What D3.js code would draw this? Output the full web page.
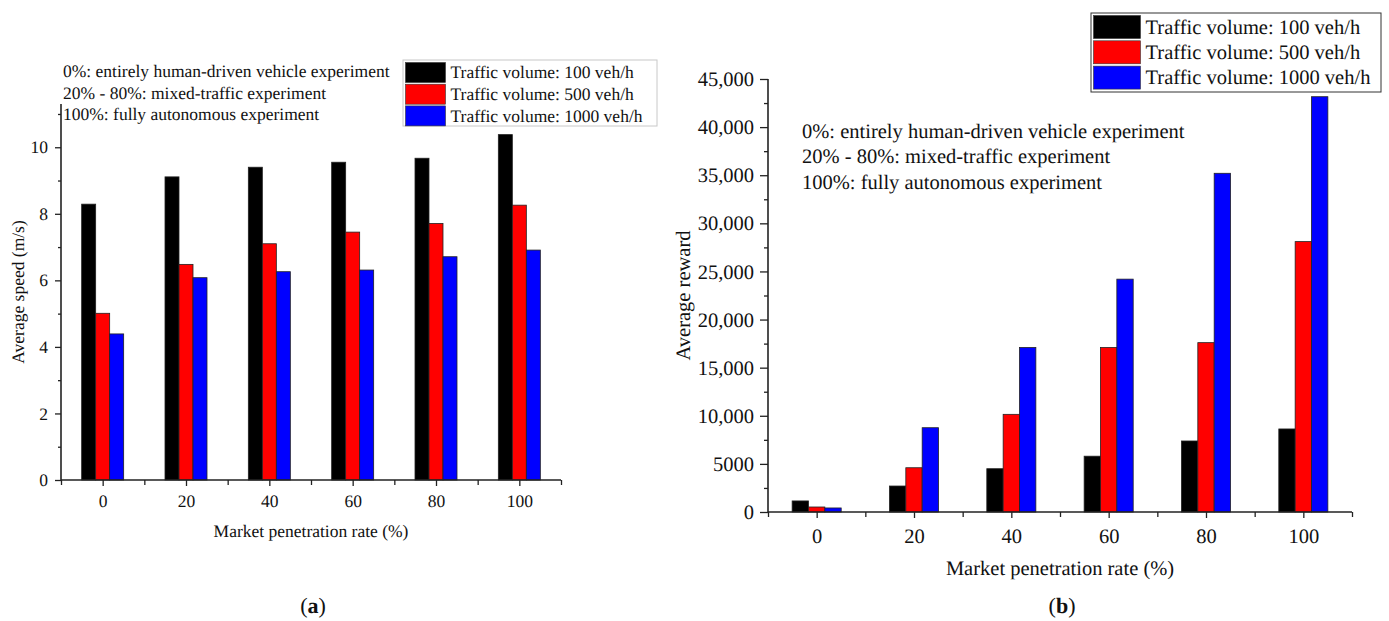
<!DOCTYPE html>
<html>
<head>
<meta charset="utf-8">
<script src="https://cdn.jsdelivr.net/npm/d3@7"></script>
<style>
  html, body { margin: 0; padding: 0; background: #fff; }
  svg { display: block; }
  svg text {
    font-family: "Liberation Serif", "Times New Roman", serif !important;
    fill: #111;
    text-rendering: geometricPrecision;
  }
</style>
</head>
<body>
<svg id="fig" width="1389" height="621"></svg>
<script>
// Market penetration rates (%) shared by both panels
const penetration = [0, 20, 40, 60, 80, 100];
const seriesNames = ["Traffic volume: 100 veh/h", "Traffic volume: 500 veh/h", "Traffic volume: 1000 veh/h"];
const seriesColors = ["#000000", "#ff0000", "#0000ff"];

// Panel (a): average speed (m/s)
const speed100 = [8.29, 9.11, 9.40, 9.55, 9.67, 10.38];
const speed500 = [5.01, 6.48, 7.10, 7.45, 7.71, 8.26];
const speed1000 = [4.39, 6.08, 6.26, 6.31, 6.71, 6.91];

// Panel (b): average reward
const reward100 = [1150, 2700, 4500, 5800, 7380, 8630];
const reward500 = [520, 4600, 10150, 17100, 17600, 28100];
const reward1000 = [420, 8760, 17100, 24200, 35200, 43160];

const notes = [
  "0%: entirely human-driven vehicle experiment",
  "20% - 80%: mixed-traffic experiment",
  "100%: fully autonomous experiment"
];

const speedMajor = [0, 2, 4, 6, 8, 10];
const speedMinor = d3.range(1, 12, 2);
const rewardMajor = d3.range(0, 45001, 5000);
const rewardMinor = d3.range(2500, 45000, 5000);
const xMinor = d3.range(-10, 111, 20);

const svg = d3.select("#fig");

function drawPanel(cfg) {
  const g = svg.append("g");
  const x = d3.scaleLinear().domain([-10, 110]).range([cfg.x0, cfg.x1]);
  const y = d3.scaleLinear().domain(cfg.yDomain).range([cfg.y0, cfg.y1]);
  const bw = x(3.36) - x(0);

  // bars
  cfg.series.forEach((vals, si) => {
    g.append("g").selectAll("rect")
      .data(penetration.map((p, i) => ({ p, v: vals[i] })))
      .join("rect")
      .attr("x", d => x(d.p) + (si - 1.5) * bw)
      .attr("y", d => y(d.v))
      .attr("width", bw)
      .attr("height", d => y(0) - y(d.v))
      .attr("fill", seriesColors[si])
      .attr("stroke", "#222")
      .attr("stroke-width", 0.8);
  });

  // y axis: major ticks with labels, minor ticks without
  const yAxis = d3.axisLeft(y).tickValues(cfg.yMajor).tickSize(cfg.yTick)
    .tickPadding(cfg.yPad).tickFormat(cfg.yFormat);
  const ya = g.append("g").attr("transform", `translate(${cfg.x0},0)`).call(yAxis);
  ya.select(".domain").remove();
  ya.append("line").attr("x1", 0).attr("x2", 0).attr("y1", y(0)).attr("y2", cfg.y1)
    .attr("stroke", "#222").attr("stroke-width", 1.6);
  g.append("g").attr("transform", `translate(${cfg.x0},0)`)
    .call(d3.axisLeft(y).tickValues(cfg.yMinor).tickSize(cfg.yTick / 2).tickFormat(""))
    .select(".domain").remove();

  // x axis
  const xAxis = d3.axisBottom(x).tickValues(penetration).tickSize(cfg.xTick)
    .tickPadding(cfg.xPad).tickFormat(d3.format("d"));
  const xa = g.append("g").attr("transform", `translate(0,${y(0)})`).call(xAxis);
  xa.select(".domain").remove();
  xa.append("line").attr("x1", cfg.x0).attr("x2", cfg.x1).attr("y1", 0).attr("y2", 0)
    .attr("stroke", "#222").attr("stroke-width", 1.6);
  g.append("g").attr("transform", `translate(0,${y(0)})`)
    .call(d3.axisBottom(x).tickValues(xMinor).tickSize(cfg.xTick - 1).tickFormat(""))
    .select(".domain").remove();

  g.selectAll("g").attr("font-family", null).attr("font-size", null);
  g.selectAll(".tick line").attr("stroke", "#222").attr("stroke-width", 1.3);
  g.selectAll(".tick text").style("font-size", cfg.font + "px").attr("fill", "#111");

  // axis titles
  g.append("text")
    .attr("transform", `translate(${cfg.yTitleX},${(y(0) + cfg.y1) / 2}) rotate(-90)`)
    .attr("text-anchor", "middle").style("font-size", cfg.font + "px").text(cfg.yTitle);
  g.append("text")
    .attr("x", (cfg.x0 + cfg.x1) / 2).attr("y", cfg.xTitleY)
    .attr("text-anchor", "middle").style("font-size", cfg.font + "px")
    .text("Market penetration rate (%)");

  // explanatory notes
  g.append("g").selectAll("text").data(notes).join("text")
    .attr("x", cfg.noteX).attr("y", (d, i) => cfg.noteY + i * cfg.noteStep)
    .style("font-size", cfg.font + "px").text(d => d);

  // legend
  const L = cfg.legend;
  const lg = g.append("g");
  lg.append("rect").attr("x", L.x).attr("y", L.y).attr("width", L.w).attr("height", L.h)
    .attr("fill", "#fff").attr("stroke", L.border).attr("stroke-width", 1);
  seriesNames.forEach((name, i) => {
    lg.append("rect").attr("x", L.x + 2.5).attr("y", L.y + 2.5 + i * L.step)
      .attr("width", L.sw).attr("height", L.sh)
      .attr("fill", seriesColors[i]).attr("stroke", "#333").attr("stroke-width", 0.6);
    lg.append("text").attr("x", L.x + 2.5 + L.sw + 5)
      .attr("y", L.y + 2.5 + i * L.step + L.sh / 2 + cfg.font * 0.33)
      .style("font-size", cfg.font + "px").text(name);
  });

  // panel caption
  const cap = g.append("text").attr("x", cfg.capX).attr("y", 613)
    .attr("text-anchor", "middle").style("font-size", "22px");
  cap.append("tspan").text("(");
  cap.append("tspan").attr("font-weight", "bold").text(cfg.caption);
  cap.append("tspan").text(")");
}

drawPanel({
  x0: 61, x1: 561, y0: 480, y1: 104,
  yDomain: [0, 11.3],
  series: [speed100, speed500, speed1000],
  yMajor: speedMajor, yMinor: speedMinor, yTick: 6, yPad: 7,
  yFormat: d3.format("d"),
  xTick: 6, xPad: 9,
  font: 17.5,
  yTitle: "Average speed (m/s)", yTitleX: 24, xTitleY: 537,
  noteX: 63, noteY: 77, noteStep: 21.5,
  legend: { x: 403, y: 60, w: 254, h: 66, sw: 40, sh: 20, step: 21.7, border: "#c8c8c8" },
  capX: 313, caption: "a"
});

drawPanel({
  x0: 768, x1: 1352, y0: 512, y1: 79,
  yDomain: [0, 45000],
  series: [reward100, reward500, reward1000],
  yMajor: rewardMajor, yMinor: rewardMinor, yTick: 8, yPad: 6,
  yFormat: d => d >= 10000 ? d3.format(",")(d) : d3.format("d")(d),
  xTick: 6, xPad: 10,
  font: 20.5,
  yTitle: "Average reward", yTitleX: 690, xTitleY: 575,
  noteX: 802, noteY: 137.5, noteStep: 25.5,
  legend: { x: 1091, y: 13, w: 290, h: 79, sw: 47, sh: 23, step: 25.3, border: "#333" },
  capX: 1062, caption: "b"
});
</script>
</body>
</html>
